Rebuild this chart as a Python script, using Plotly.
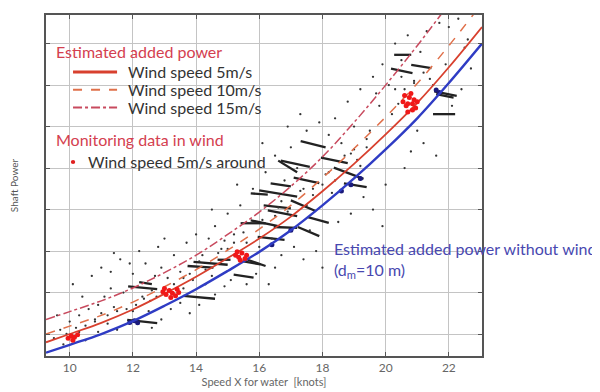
import plotly.graph_objects as go

# ---- data ----
speed = [9.25, 10, 11, 12, 13, 14, 15, 16, 17, 18, 19, 20, 21, 22, 23.05]
power_no_wind = [0.55, 0.74, 1.00, 1.31, 1.68, 2.08, 2.52, 2.98, 3.50, 4.10, 4.75, 5.45, 6.20, 7.05, 8.00]
power_wind5 = [0.80, 1.00, 1.27, 1.59, 1.97, 2.38, 2.83, 3.30, 3.83, 4.44, 5.10, 5.81, 6.57, 7.43, 8.40]
power_wind10 = [1.00, 1.19, 1.45, 1.77, 2.14, 2.55, 3.02, 3.53, 4.10, 4.76, 5.47, 6.23, 7.04, 7.95, 8.97]
power_wind15 = [1.35, 1.54, 1.80, 2.11, 2.48, 2.90, 3.40, 3.94, 4.56, 5.27, 6.10, 7.00, 7.95, 8.95, 10.0]

legend_titles = ["Estimated added power", "Monitoring data in wind"]
legend_lines = ["Wind speed 5m/s", "Wind speed 10m/s", "Wind speed 15m/s"]
legend_points = "Wind speed 5m/s around"
note_text = "Estimated added power without wind<br>(d<sub>m</sub>=10 m)"

# dense monitoring streaks (start speed, start power, end speed, end power)
streaks = [
    (11.82, 1.34, 12.77, 1.26), (11.85, 2.15, 12.77, 2.08), (13.60, 1.92, 14.60, 1.85),
    (13.73, 2.64, 14.55, 2.60), (13.92, 2.74, 15.00, 2.67), (15.50, 2.75, 16.04, 2.68),
    (15.19, 2.43, 15.82, 2.36), (15.73, 3.74, 16.60, 3.60), (16.27, 3.98, 17.20, 3.84),
    (16.46, 3.58, 17.20, 3.56), (15.95, 3.34, 16.80, 3.27), (16.68, 5.18, 17.60, 5.03),
    (15.73, 4.39, 16.27, 4.36), (16.36, 4.63, 17.00, 4.56), (17.09, 4.77, 17.90, 4.64),
    (16.14, 4.10, 17.00, 4.03), (17.00, 4.22, 17.80, 3.96), (17.22, 3.58, 17.90, 3.36),
    (17.54, 3.82, 18.20, 3.68), (15.41, 3.67, 16.20, 3.67), (15.63, 2.79, 16.20, 2.64),
    (14.68, 2.79, 15.09, 2.79), (20.17, 7.40, 20.85, 7.29), (20.81, 7.49, 21.45, 7.41),
    (20.27, 7.73, 20.81, 7.73), (21.54, 6.85, 22.25, 6.74), (21.60, 6.78, 22.15, 6.70),
    (21.50, 6.30, 22.20, 6.30), (17.31, 5.65, 18.10, 5.50), (17.95, 5.25, 18.80, 5.12),
    (18.36, 5.01, 19.30, 4.74), (18.68, 4.63, 19.40, 4.54), (16.00, 4.46, 17.20, 4.31),
    (16.60, 5.18, 17.20, 4.90), (12.20, 2.25, 12.60, 2.20),
]

# scattered monitoring points
dots_speed = [
    9.5, 9.7, 9.9, 10.0, 10.2, 10.3, 10.5, 10.6, 10.8, 10.9, 11.0, 11.1, 11.2, 11.3, 11.4,
    10.4, 10.1, 10.7, 11.0, 11.3, 11.6, 11.5, 9.6, 10.9, 11.7, 11.8, 11.4, 11.9, 10.5, 9.8,
    12.1, 12.3, 12.5, 12.7, 12.9, 12.4, 12.2, 12.8, 13.1, 13.3, 13.5, 13.7, 13.9, 13.2, 13.5,
    12.6, 12.9, 13.8, 14.0, 12.0, 13.0, 13.6,
    14.2, 14.4, 14.6, 14.8, 15.0, 15.2, 15.4, 15.6, 15.8, 14.3, 14.6, 14.9, 15.1, 15.6, 15.9,
    16.0, 14.5, 15.3, 14.1, 16.3, 16.5,
    16.2, 16.5, 16.8, 17.0, 17.2, 17.5, 17.7, 17.9, 16.4, 16.7, 17.1, 17.4, 17.8, 18.0, 17.6,
    16.9, 16.1, 17.3,
    18.2, 18.4, 18.6, 18.8, 19.0, 19.2, 19.4, 19.6, 19.8, 18.5, 18.9, 19.3, 19.6, 19.9, 20.0,
    18.3, 19.1, 19.5, 19.7, 19.9,
    20.1, 20.3, 20.5, 20.7, 20.9, 21.1, 21.3, 21.5, 21.7, 22.0, 22.3, 22.5, 22.7, 20.6, 20.2,
    21.0, 21.2, 21.6, 20.6, 22.1, 22.4, 21.9, 20.8,
    12.35, 12.55, 12.75, 13.6, 13.8, 14.3, 14.5, 14.7, 15.0, 15.2, 16.5, 16.7, 16.9, 17.3, 17.5,
    17.7, 18.0, 18.2, 18.4, 18.7, 19.0, 19.2, 20.3, 20.5, 20.9, 21.2, 11.2, 11.5, 10.8, 10.3,
    12.0, 12.6, 13.3, 14.1, 14.9, 15.5, 16.1, 16.6, 17.4, 18.1, 18.9, 19.4, 20.4, 21.4, 22.6,
]
dots_power = [
    0.9, 1.1, 1.0, 1.3, 1.15, 1.45, 1.2, 1.6, 1.35, 1.7, 1.5, 1.9, 1.25, 2.1, 1.65,
    1.9, 2.2, 2.4, 2.6, 2.5, 2.8, 1.1, 1.45, 1.05, 2.0, 1.6, 2.95, 2.7, 0.85, 0.75,
    1.7, 1.9, 1.55, 2.4, 2.6, 2.7, 3.0, 3.1, 2.35, 2.9, 2.5, 3.2, 2.3, 1.6, 1.75,
    1.15, 1.35, 1.5, 3.4, 2.45, 3.3, 2.1,
    2.9, 3.3, 3.6, 3.05, 3.9, 3.4, 4.1, 3.2, 4.5, 2.2, 1.95, 2.15, 2.3, 2.2, 2.45,
    3.1, 4.0, 4.6, 1.7, 2.2, 2.6,
    4.9, 5.3, 4.7, 5.5, 5.0, 5.9, 4.5, 6.1, 3.3, 2.9, 3.1, 2.8, 3.0, 2.6, 3.5,
    6.0, 5.6, 6.3,
    5.8, 6.2, 5.6, 6.6, 6.0, 6.9, 5.5, 7.2, 6.5, 3.7, 3.9, 4.3, 4.0, 3.6, 4.6,
    4.4, 5.2, 5.9, 6.8, 7.5,
    7.0, 8.0, 7.6, 8.2, 7.1, 7.8, 8.3, 7.0, 8.5, 8.4, 8.6, 7.9, 7.4, 6.9, 6.3,
    5.9, 5.6, 5.3, 5.0, 6.5, 6.9, 7.5, 5.4,
    1.85, 1.8, 1.9, 2.35, 2.45, 2.55, 2.4, 2.95, 3.05, 3.2, 3.85, 4.2, 3.95, 4.45, 4.1,
    4.35, 4.6, 4.9, 4.7, 5.3, 5.45, 5.05, 6.9, 7.2, 7.05, 7.3, 1.45, 1.55, 1.3, 1.05,
    1.55, 2.05, 2.2, 2.75, 3.25, 3.45, 3.75, 4.05, 4.5, 4.85, 5.35, 5.7, 6.55, 7.15, 8.1,
]

# monitoring points with wind speed around 5 m/s
red_speed = [9.95, 10.05, 10.15, 10.25, 10.1,
             12.95, 13.05, 13.15, 13.25, 13.35, 13.45, 13.2, 13.0, 13.4,
             15.25, 15.35, 15.45, 15.55, 15.4, 15.3, 15.6,
             20.55, 20.65, 20.75, 20.85, 20.95, 20.7, 20.8, 20.6, 20.9, 21.0, 20.7, 20.85]
red_power = [0.9, 0.95, 0.92, 0.98, 0.85,
             2.02, 1.95, 2.05, 1.98, 1.92, 2.0, 1.88, 2.1, 2.08,
             2.9, 2.85, 2.95, 2.82, 2.78, 2.98, 2.9,
             6.6, 6.5, 6.7, 6.55, 6.45, 6.35, 6.8, 6.75, 6.65, 6.6, 6.55, 6.4]

# calm-condition points sitting on the no-wind curve
navy_speed = [11.9, 12.05, 12.15, 21.6, 21.7, 18.6, 18.9, 19.2, 16.4, 17.0]
navy_power = [1.28, 1.32, 1.27, 6.88, 6.82, 4.45, 4.6, 4.75, 3.15, 3.5]

FONT = "Lato"
TITLE_RED = "#d4404f"
C_W5, C_W10, C_W15 = "#d8402e", "#e0704a", "#c84a5e"

fig = go.Figure()

sx, sy = [], []
for x0, y0, x1, y1 in streaks:
    sx += [x0, x1, None]
    sy += [y0, y1, None]
fig.add_trace(go.Scatter(x=sx, y=sy, mode="lines", line=dict(color="#222", width=2.3),
                         showlegend=False, hoverinfo="skip"))
fig.add_trace(go.Scatter(x=dots_speed, y=dots_power, mode="markers",
                         marker=dict(color="#333", size=2.3), showlegend=False))
fig.add_trace(go.Scatter(x=navy_speed, y=navy_power, mode="markers",
                         marker=dict(color="#1a1a7a", size=5), showlegend=False))

fig.add_trace(go.Scatter(x=speed, y=power_no_wind, mode="lines",
                         line=dict(color="#2f3cc4", width=2.4, shape="spline"), showlegend=False))
fig.add_trace(go.Scatter(x=speed, y=power_wind5, mode="lines",
                         line=dict(color=C_W5, width=1.8, shape="spline"), showlegend=False))
fig.add_trace(go.Scatter(x=speed, y=power_wind10, mode="lines",
                         line=dict(color=C_W10, width=1.5, dash="dash", shape="spline"), showlegend=False))
fig.add_trace(go.Scatter(x=speed, y=power_wind15, mode="lines",
                         line=dict(color=C_W15, width=1.5, dash="dashdot", shape="spline"), showlegend=False))
fig.add_trace(go.Scatter(x=red_speed, y=red_power, mode="markers",
                         marker=dict(color="#f01818", size=5), showlegend=False))

# ---- hand-made legend (paper coordinates of the plot area) ----
fs = 16
fig.add_annotation(x=0.019, y=0.893, xref="paper", yref="paper", xanchor="left", yanchor="middle",
                   text=legend_titles[0], showarrow=False, font=dict(family=FONT, size=fs, color=TITLE_RED))
rows_y = [0.833, 0.781, 0.729]
styles = [(C_W5, "solid", 3), (C_W10, "dash", 2), (C_W15, "dashdot", 2)]
for yy, label, (col, dash, w) in zip(rows_y, legend_lines, styles):
    fig.add_shape(type="line", xref="paper", yref="paper", x0=0.062, x1=0.163, y0=yy, y1=yy,
                  line=dict(color=col, width=w, dash=dash))
    fig.add_annotation(x=0.184, y=yy, xref="paper", yref="paper", xanchor="left", yanchor="middle",
                       text=label, showarrow=False, font=dict(family=FONT, size=fs, color="#333"))
fig.add_annotation(x=0.019, y=0.634, xref="paper", yref="paper", xanchor="left", yanchor="middle",
                   text=legend_titles[1], showarrow=False, font=dict(family=FONT, size=fs, color=TITLE_RED))
fig.add_shape(type="circle", xref="paper", yref="paper", x0=0.057, x1=0.067, y0=0.563, y1=0.575,
              fillcolor="#e02020", line=dict(width=0))
fig.add_annotation(x=0.092, y=0.569, xref="paper", yref="paper", xanchor="left", yanchor="middle",
                   text=legend_points, showarrow=False, font=dict(family=FONT, size=fs, color="#333"))

fig.add_annotation(x=0.655, y=0.282, xref="paper", yref="paper", xanchor="left", yanchor="middle",
                   text=note_text, showarrow=False, align="left",
                   font=dict(family=FONT, size=16, color="#4848b0"))

# page body has an 8px margin: shrink the figure so the plot lands where the reference's does
fig.update_layout(
    width=592, height=384,
    margin=dict(l=38, r=118, t=5, b=27),
    paper_bgcolor="white", plot_bgcolor="white",
    font=dict(family=FONT, color="#555"),
    showlegend=False,
)
fig.update_xaxes(range=[9.25, 23.05], tick0=10, dtick=2, showgrid=True, gridcolor="#c4c4c4",
                 showline=True, linecolor="#555", linewidth=1.5, mirror="ticks",
                 ticks="inside", ticklen=4, tickcolor="#555",
                 tickfont=dict(size=12, color="#666"), zeroline=False,
                 title=dict(text="Speed X for water  [knots]", font=dict(size=11, color="#666"), standoff=4))
fig.update_yaxes(range=[0.47, 8.69], tick0=0, dtick=1, showgrid=True, gridcolor="#c4c4c4",
                 showline=True, linecolor="#555", linewidth=1.5, mirror="ticks",
                 ticks="inside", ticklen=4, tickcolor="#555", showticklabels=False, zeroline=False,
                 title=dict(text="Shaft Power", font=dict(size=10, color="#555"), standoff=25))

fig.write_html("out.html")
